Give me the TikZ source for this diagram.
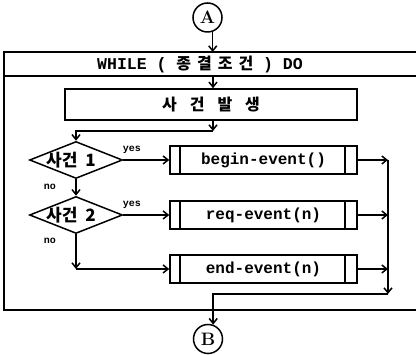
\documentclass[tikz,border=0pt]{standalone}
\usepackage{fontspec}
\setmonofont{Liberation Mono}
\newfontfamily\kr{Noto Sans CJK KR}
\usetikzlibrary{shapes.geometric,arrows.meta}
\begin{document}
\begin{tikzpicture}[x=1pt,y=-1pt,line width=1.5pt,
  arr/.style={-{Straight Barb[length=5pt,width=8pt]}},
  conn/.style={circle,draw,minimum size=29pt,inner sep=0pt,font=\rmfamily\bfseries\fontsize{18}{18}\selectfont},
  proc/.style={draw,minimum width=187pt,minimum height=28pt,inner sep=0pt,
    font=\ttfamily\bfseries\fontsize{16}{16}\selectfont,
    path picture={\draw[line width=1.5pt]
      ([xshift=10pt]path picture bounding box.north west) -- ([xshift=10pt]path picture bounding box.south west)
      ([xshift=-12pt]path picture bounding box.north east) -- ([xshift=-12pt]path picture bounding box.south east);}},
  dec/.style={diamond,draw,minimum width=93pt,minimum height=37pt,inner sep=0pt},
  dectext/.style={font=\kr\bfseries\fontsize{17}{17}\selectfont,inner sep=0pt},
  lbl/.style={font=\ttfamily\bfseries\fontsize{10}{10}\selectfont,inner sep=0pt},
  head/.style={font=\ttfamily\bfseries\fontsize{16.5}{16.5}\selectfont,inner sep=0pt}
]
\useasboundingbox (0,0) rectangle (416,355);
% frame
\coordinate (fTL) at (4,52);
\coordinate (fTR) at (416,52);
\coordinate (bL) at (4,76);
\coordinate (bR) at (416,76);
\coordinate (fBL) at (4,310);
\coordinate (fBR) at (416,310);
\draw (fTR) -- (fTL) -- (fBL) -- (fBR);
\draw (bL) -- (bR);
\node[head] (title) at (200,64) {WHILE ( {\kr\bfseries\fontsize{16}{16}\selectfont 종\hspace{6pt}결\hspace{6pt}조\hspace{6pt}건} ) DO};
% connectors A, B
\node[conn] (A) at (207.5,17.5) {A};
\node[conn] (B) at (208,339) {B};
\draw[arr] (A.-70) -- (A.-70 |- fTL);
\coordinate (t1) at (213,76);
\node[draw,minimum width=292pt,minimum height=31pt,inner sep=0pt,
  font=\kr\bfseries\fontsize{16}{16}\selectfont] (ev) at (211,104.5)
  {사\hspace{13pt}건\hspace{13pt}발\hspace{13pt}생};
\draw[arr] (t1) -- (t1 |- ev.north);
\coordinate (j1) at (213,131);
\draw[arr] (ev.south -| j1) -- (j1);
% decisions
\node[dec] (d1) at (76,160) {};
\node[dectext] (d1t) at (71,160) {사건\hspace{8pt}1};
\draw[arr] (j1) -- (j1 -| d1) -- (d1.north);
\node[dec] (d2) at (76,215) {};
\node[dectext] (d2t) at (71,215) {사건\hspace{8pt}2};
\draw[arr] (d1.south) -- (d2.north);
% processes
\node[proc] (b1) at (263.5,160) {begin-event()};
\node[proc] (b2) at (263.5,215) {req-event(n)};
\node[proc] (b3) at (263.5,269) {end-event(n)};
\draw[arr] (d1.east) -- (b1.west);
\draw[arr] (d2.east) -- (b2.west);
\coordinate (j2) at (76,269);
\draw[arr] (d2.south) -- (j2);
\draw[arr] (j2) -- (b3.west);
% labels
\node[lbl] (y1) at (132,150) {yes};
\node[lbl] (y2) at (132,205) {yes};
\node[lbl] (n1) at (50,187) {no};
\node[lbl] (n2) at (50,241) {no};
% merge line
\coordinate (m1) at (388,160);
\coordinate (m2) at (388,215);
\coordinate (m3) at (388,269);
\coordinate (m4) at (388,294);
\draw[arr] (b1.east) -- (m1);
\draw[arr] (b2.east) -- (m2);
\draw[arr] (b3.east) -- (m3);
\draw[arr] (m1) -- (m4);
\draw[arr] (m4) -- (m4 -| B.70) -- (B.70);
\end{tikzpicture}
\end{document}
